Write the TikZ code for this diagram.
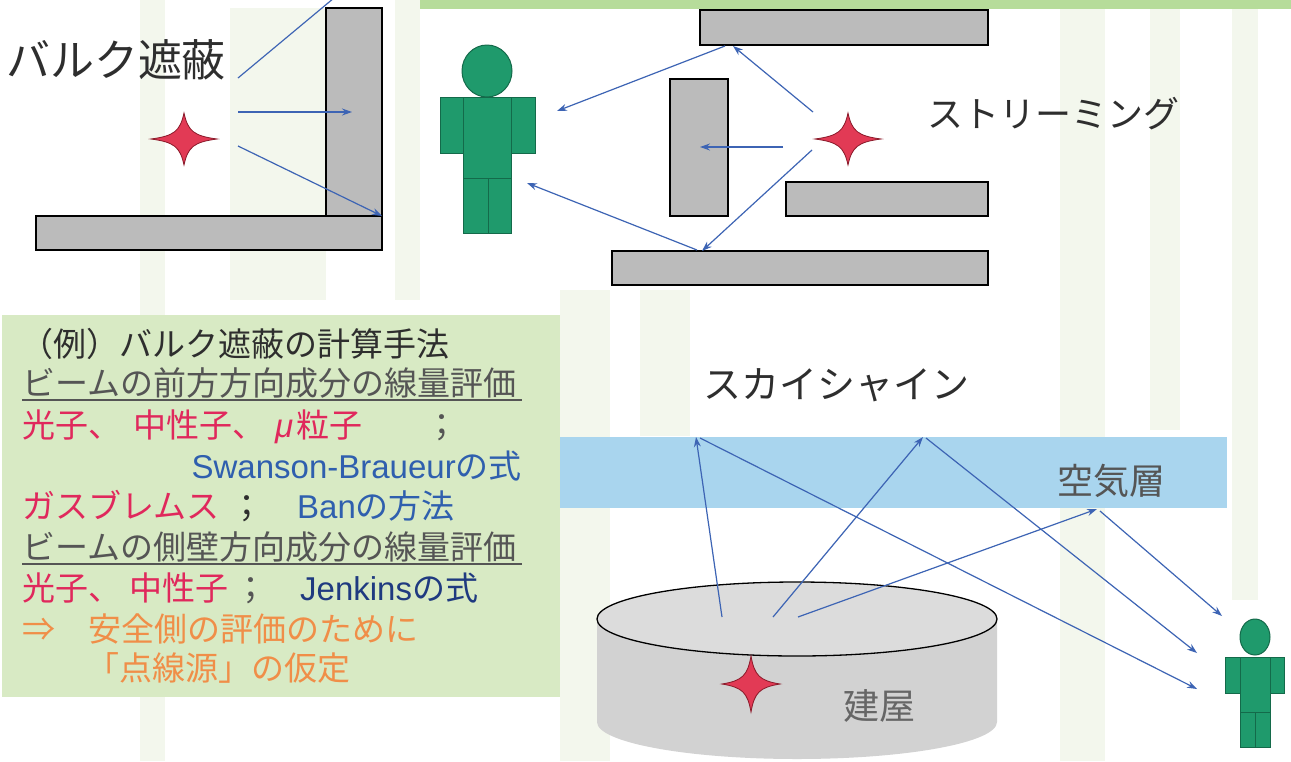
\documentclass[tikz,border=0pt]{standalone}
\usepackage{fontspec}
\setmainfont{Noto Sans CJK JP}
\newfontfamily\latinfont{Liberation Sans}
\usetikzlibrary{arrows.meta}

\definecolor{wallgray}{HTML}{BBBBBB}
\definecolor{rayblue}{HTML}{3D64B4}
\definecolor{figgreen}{HTML}{1F9A6C}
\definecolor{figedge}{HTML}{146A4A}
\definecolor{sparkred}{HTML}{E23A55}
\definecolor{sparkedge}{HTML}{8A1A2A}
\definecolor{boxgreen}{HTML}{D8EAC4}
\definecolor{airblue}{HTML}{A9D5EE}
\definecolor{roofgray}{HTML}{DCDCDC}
\definecolor{drumgray}{HTML}{D2D2D2}
\definecolor{topstrip}{HTML}{B6DC9A}
\definecolor{bamboo}{HTML}{E6EFD9}
\definecolor{txtred}{HTML}{E0285C}
\definecolor{txtblue}{HTML}{2F5FAE}
\definecolor{txtnavy}{HTML}{1F3A80}
\definecolor{txtorange}{HTML}{F08E48}
\definecolor{txtgray}{HTML}{555555}
\definecolor{txtdark}{HTML}{2E2E2E}

\tikzset{
  wall/.style={fill=wallgray, draw=black, line width=1.3pt},
  ray/.style={draw=rayblue, line width=1.2pt, -{Stealth[length=10pt,width=7pt]}},
  plainray/.style={draw=rayblue, line width=1.2pt},
  limb/.style={fill=figgreen, draw=figedge, line width=1pt},
  sparkstyle/.style={fill=sparkred, draw=sparkedge, line width=0.8pt},
  spark/.pic={
    \path[sparkstyle] (1,0) .. controls (0.3,0.12) and (0.12,0.3) .. (0,1)
      .. controls (-0.12,0.3) and (-0.3,0.12) .. (-1,0)
      .. controls (-0.3,-0.12) and (-0.12,-0.3) .. (0,-1)
      .. controls (0.12,-0.3) and (0.3,-0.12) .. (1,0) -- cycle;
  },
  label/.style={inner sep=0pt, text=txtdark},
  boxtext/.style={inner sep=0pt, anchor=base west, font=\fontsize{33}{40}\selectfont},
  backdrop/.style={fill=bamboo, opacity=0.45}
}

\begin{document}
\begin{tikzpicture}[x=1pt, y=-1pt]
\useasboundingbox (0,0) rectangle (1291,761);

% pale bamboo backdrop
\fill[white] (0,0) rectangle (1291,761);
\fill[backdrop] (140,0) rectangle (165,761);
\fill[backdrop] (230,8) rectangle (326,300);
\fill[backdrop] (395,0) rectangle (420,300);
\fill[backdrop] (560,290) rectangle (610,761);
\fill[backdrop] (640,290) rectangle (690,436);
\fill[backdrop] (1060,0) rectangle (1105,761);
\fill[backdrop] (1150,0) rectangle (1180,430);
\fill[backdrop] (1232,0) rectangle (1258,600);
\fill[topstrip] (420,0) rectangle (1291,9);

% ---------- bulk shielding ----------
\path[wall] (326,8) rectangle (382,216);
\path[wall] (36,216) rectangle (382,250);
\pic[xscale=33, yscale=26] at (184,139) {spark};
\node[label, font=\fontsize{44}{44}\selectfont] (bulk) at (116,60) {バルク遮蔽};

\coordinate (b0) at (238,78);   \coordinate (b0e) at (334,-2);
\coordinate (b1) at (238,112);  \coordinate (b1e) at (352,112);
\coordinate (b2) at (238,146);  \coordinate (b2e) at (382,216);
\draw[plainray] (b0) -- (b0e);
\draw[ray] (b1) -- (b1e);
\draw[ray] (b2) -- (b2e);

% person (upper)
\path[limb] (487,71) ellipse [x radius=25pt, y radius=26pt];
\path[limb] (440,97) rectangle (463,153);
\path[limb] (511,97) rectangle (535,153);
\path[limb] (463,97) rectangle (511,178);
\path[limb] (463,178) rectangle (488,233);
\path[limb] (488,178) rectangle (511,233);

% ---------- streaming ----------
\path[wall] (700,10) rectangle (988,45);
\path[wall] (670,79) rectangle (728,216);
\path[wall] (786,182) rectangle (988,216);
\path[wall] (612,251) rectangle (988,285);
\pic[xscale=33, yscale=26] at (848,139) {spark};
\node[label, font=\fontsize{36}{36}\selectfont] (stream) at (1053,114) {ストリーミング};

\coordinate (s1) at (813,112);  \coordinate (s1e) at (733,46);
\coordinate (s2) at (725,46);   \coordinate (s2e) at (557,111);
\coordinate (s3) at (783,147);  \coordinate (s3e) at (700,147);
\coordinate (s4) at (812,150);  \coordinate (s4e) at (702,251);
\coordinate (s5) at (697,250);  \coordinate (s5e) at (527,183);
\draw[ray] (s1) -- (s1e);
\draw[ray] (s2) -- (s2e);
\draw[ray] (s3) -- (s3e);
\draw[ray] (s4) -- (s4e);
\draw[ray] (s5) -- (s5e);

% ---------- calculation methods ----------
\fill[boxgreen] (2,315) rectangle (560,697);
\node[boxtext, text=txtdark] (m1) at (20,356) {（例）バルク遮蔽の計算手法};
\node[boxtext, text=txtgray] (m2) at (22,395) {ビームの前方方向成分の線量評価};
\draw[txtgray, line width=1.2pt] (22,400) -- (522,400);
\node[boxtext, text=txtred] (m3) at (22,437) {光子、\hspace{12pt}中性子、\hspace{10pt}{\latinfont\itshape μ}\hspace{3pt}粒子};
\node[boxtext, text=txtgray] (m3s) at (425,437) {；};
\node[boxtext, anchor=base east, text=txtblue] (m4) at (522,478) {{\latinfont Swanson-Braueur}の式};
\node[boxtext, text=txtred] (m5) at (22,518) {ガスブレムス};
\node[boxtext, text=txtdark] (m5s) at (230,518) {；};
\node[boxtext, text=txtblue] (m5b) at (297,518) {{\latinfont Ban}の方法};
\node[boxtext, text=txtgray] (m6) at (22,559) {ビームの側壁方向成分の線量評価};
\draw[txtgray, line width=1.2pt] (22,564) -- (522,564);
\node[boxtext, text=txtred] (m7) at (22,600) {光子、\hspace{8pt}中性子};
\node[boxtext, text=txtgray] (m7s) at (234,600) {；};
\node[boxtext, text=txtnavy] (m7b) at (300,600) {{\latinfont Jenkins}の式};
\node[boxtext, text=txtorange] (m8a) at (22,641) {⇒};
\node[boxtext, text=txtorange] (m8) at (88,641) {安全側の評価のために};
\node[boxtext, text=txtorange] (m9) at (86,680) {「点線源」の仮定};

% ---------- skyshine ----------
\node[label, font=\fontsize{38}{38}\selectfont] (sky) at (836,385) {スカイシャイン};
\fill[airblue] (560,437) rectangle (1227,508);
\node[label, text=txtgray, font=\fontsize{36}{36}\selectfont] (air) at (1111,481) {空気層};

% building drum
\fill[drumgray] (597,619) -- (597,722) arc[start angle=180, end angle=360, x radius=200pt, y radius=37pt] -- (997,619) -- cycle;
\draw[fill=roofgray, line width=1.3pt] (797,619) ellipse [x radius=200pt, y radius=37pt];
\pic[xscale=29, yscale=28] at (751,684) {spark};
\node[label, text=txtgray!90, font=\fontsize{36}{36}\selectfont] (bldg) at (879,706) {建屋};

\coordinate (k1) at (722,617);  \coordinate (k1e) at (696,437);
\coordinate (k2) at (773,617);  \coordinate (k2e) at (923,437);
\coordinate (k3) at (798,617);  \coordinate (k3e) at (1097,509);
\coordinate (k4) at (700,438);  \coordinate (k4e) at (1197,689);
\coordinate (k5) at (926,438);  \coordinate (k5e) at (1197,653);
\coordinate (k6) at (1100,511); \coordinate (k6e) at (1222,616);
\draw[ray] (k1) -- (k1e);
\draw[ray] (k2) -- (k2e);
\draw[ray] (k3) -- (k3e);
\draw[ray] (k4) -- (k4e);
\draw[ray] (k5) -- (k5e);
\draw[ray] (k6) -- (k6e);

% person (lower right)
\path[limb] (1255,637) ellipse [x radius=15pt, y radius=18pt];
\path[limb] (1225,657) rectangle (1240,693);
\path[limb] (1270,657) rectangle (1284,693);
\path[limb] (1240,657) rectangle (1270,712);
\path[limb] (1240,712) rectangle (1255,747);
\path[limb] (1255,712) rectangle (1270,747);
\end{tikzpicture}
\end{document}
